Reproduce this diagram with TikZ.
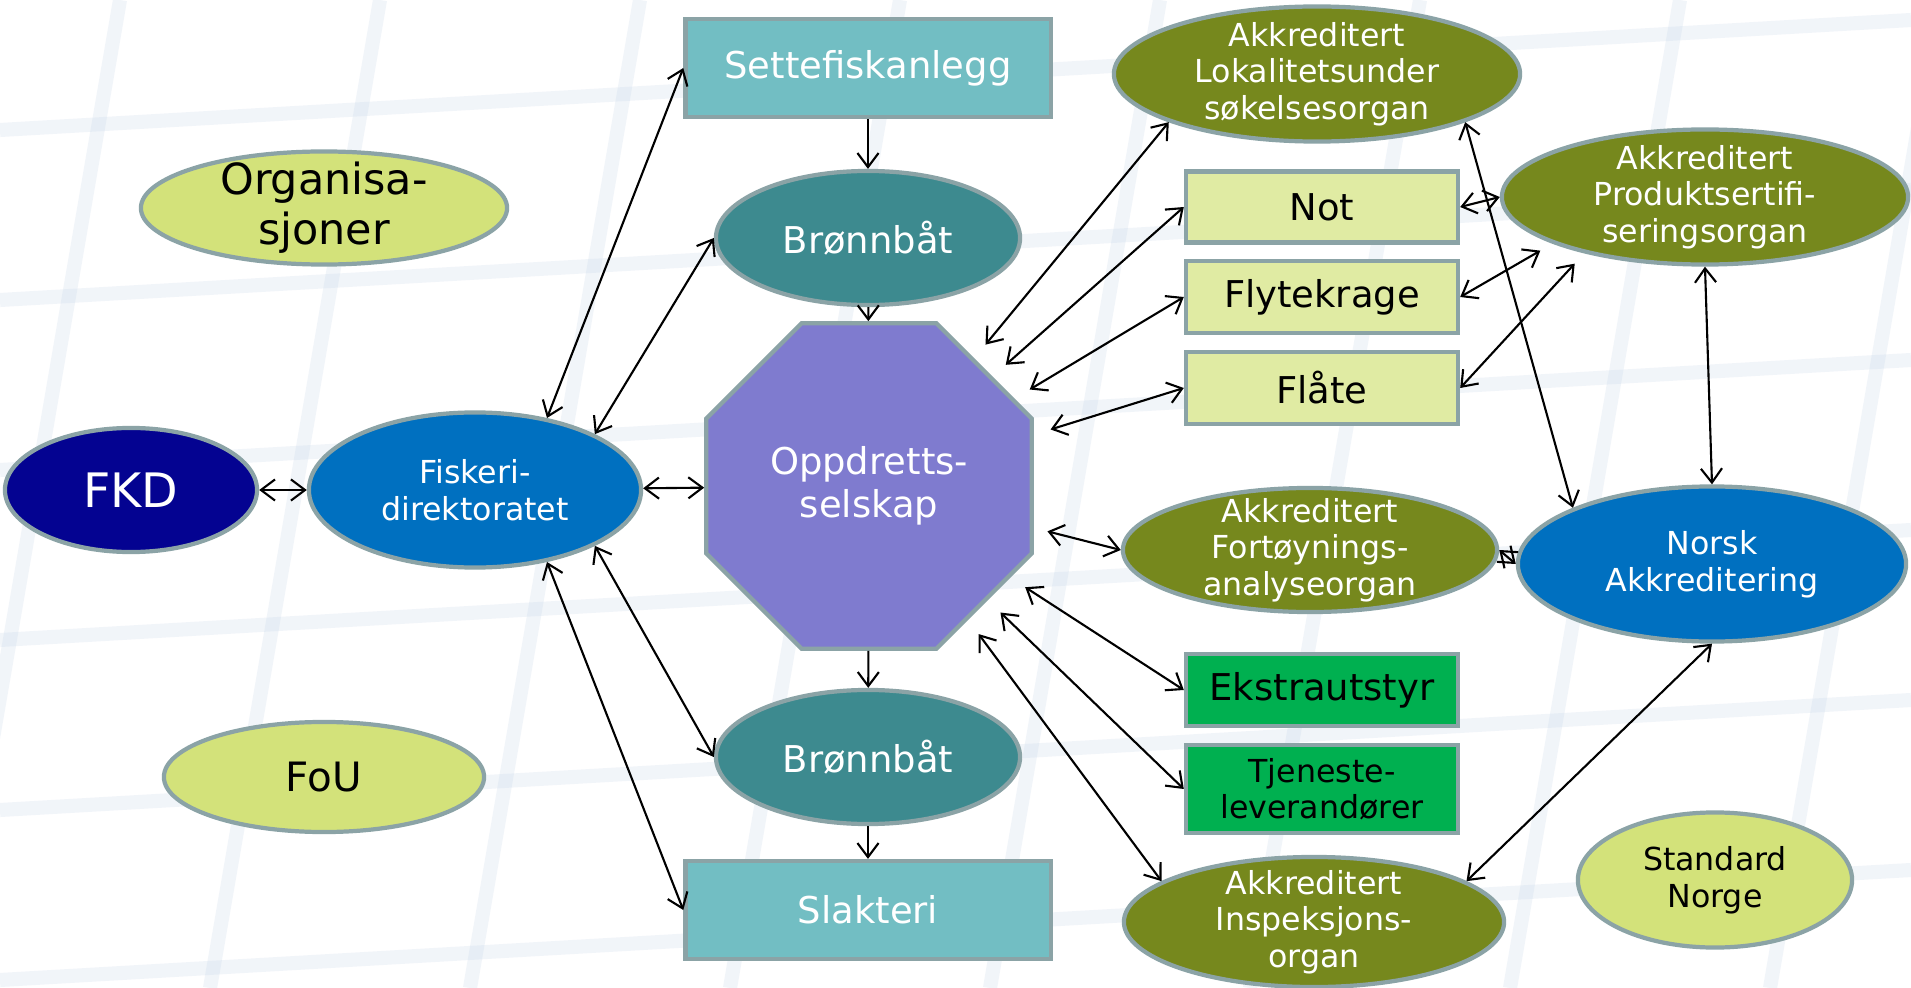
\documentclass[tikz,border=0pt]{standalone}
\usepackage{fontspec}
\setmainfont{DejaVu Sans}
\usetikzlibrary{shapes.geometric,arrows.meta}

\definecolor{kant}{HTML}{8BA3A6}
\definecolor{lysblaa}{HTML}{72BEC3}
\definecolor{bronn}{HTML}{3D8A8F}
\definecolor{lilla}{HTML}{7F7BCF}
\definecolor{lysgronn}{HTML}{D3E27A}
\definecolor{marine}{HTML}{040391}
\definecolor{blaa}{HTML}{0070C0}
\definecolor{oliven}{HTML}{76881D}
\definecolor{blek}{HTML}{E0EBA3}
\definecolor{gronn}{HTML}{00B050}
\definecolor{rutenett}{HTML}{C9D9EA}

\begin{document}
\begin{tikzpicture}[x=0.01cm, y=-0.01cm,
  boks/.style={draw=kant, line width=1.2pt, inner sep=0pt, align=center},
  ell/.style={boks, ellipse, inner ysep=-20pt},
  pil/.style={line width=0.6pt, >={Straight Barb[length=4pt,width=6pt]}},
  tni/.style={font=\fontsize{9}{10.4}\selectfont},
  tti/.style={font=\fontsize{10.5}{12.2}\selectfont}]
\useasboundingbox (0,0) rectangle (1911,988);
\fill[white] (0,0) rectangle (1911,988);
\foreach \y in {-40,130,300,470,640,810,980}
  \draw[rutenett, line width=4pt, opacity=.25] (0,\y) -- (1911,\y-110);
\foreach \x in {120,380,640,900,1160,1420,1680,1940}
  \draw[rutenett, line width=4pt, opacity=.25] (\x,0) -- (\x-170,988);

\node[boks, fill=lysblaa, text=white, minimum width=3.65cm, minimum height=0.98cm, tti] (sette) at (868,68) {Settefiskanlegg};
\node[ell, fill=bronn, text=white, minimum width=3.04cm, minimum height=1.34cm, tti] (bb1) at (868,238) {Brønnbåt};
\node[boks, regular polygon, regular polygon sides=8, minimum size=3.52cm, fill=lilla, text=white, tti] (okt) at (869,486) {Oppdretts-\\selskap};
\node[ell, fill=bronn, text=white, minimum width=3.04cm, minimum height=1.34cm, tti] (bb2) at (868,757) {Brønnbåt};
\node[boks, fill=lysblaa, text=white, minimum width=3.65cm, minimum height=0.98cm, tti] (slakt) at (868,910) {Slakteri};

\node[ell, fill=lysgronn, minimum width=3.66cm, minimum height=1.13cm, font=\fontsize{12.2}{14.2}\selectfont] (org) at (324,208) {Organisa-\\sjoner};
\node[ell, fill=marine, text=white, minimum width=2.52cm, minimum height=1.24cm, font=\fontsize{13.5}{15.6}\selectfont] (fkd) at (131,490) {FKD};
\node[ell, fill=blaa, text=white, minimum width=3.32cm, minimum height=1.55cm, tni] (fisk) at (475,490) {Fiskeri-\\direktoratet};
\node[ell, fill=lysgronn, minimum width=3.2cm, minimum height=1.1cm, font=\fontsize{11.5}{13.3}\selectfont] (fou) at (324,777) {FoU};

\node[ell, fill=oliven, text=white, minimum width=4.06cm, minimum height=1.35cm, tni] (lok) at (1317,74) {Akkreditert\\Lokalitetsunder\\søkelsesorgan};
\node[boks, fill=blek, minimum width=2.72cm, minimum height=0.71cm, tti] (not) at (1322,207) {Not};
\node[boks, fill=blek, minimum width=2.72cm, minimum height=0.72cm, tti] (flyt) at (1322,297) {Flytekrage};
\node[boks, fill=blek, minimum width=2.72cm, minimum height=0.72cm, tti] (flaate) at (1322,388) {Flåte};
\node[ell, fill=oliven, text=white, minimum width=3.74cm, minimum height=1.24cm, tni] (fort) at (1310,550) {Akkreditert\\Fortøynings-\\analyseorgan};
\node[boks, fill=gronn, minimum width=2.72cm, minimum height=0.72cm, tti] (ekstra) at (1322,690) {Ekstrautstyr};
\node[boks, fill=gronn, minimum width=2.72cm, minimum height=0.88cm, tni] (tjen) at (1322,789) {Tjeneste-\\leverandører};
\node[ell, fill=oliven, text=white, minimum width=3.8cm, minimum height=1.3cm, tni] (insp) at (1314,922) {Akkreditert\\Inspeksjons-\\organ};

\node[ell, fill=oliven, text=white, minimum width=4.06cm, minimum height=1.35cm, tni] (prod) at (1705,197) {Akkreditert\\Produktsertifi-\\seringsorgan};
\node[ell, fill=blaa, text=white, minimum width=3.88cm, minimum height=1.55cm, tni] (norsk) at (1712,564) {Norsk\\Akkreditering};
\node[ell, fill=lysgronn, minimum width=2.74cm, minimum height=1.35cm, tni] (std) at (1715,880) {Standard\\Norge};

\draw[pil,->] (sette) -- (bb1);
\draw[pil,->] (bb1) -- (okt);
\draw[pil,->] (okt) -- (bb2);
\draw[pil,->] (bb2) -- (slakt);

\draw[pil,<->] (fkd) -- (fisk);
\draw[pil,<->] (fisk) -- (okt);
\draw[pil,<->] (fisk.45) -- (sette.west);
\draw[pil,<->] (fisk.25) -- (bb1.west);
\draw[pil,<->] (fisk.-25) -- (bb2.west);
\draw[pil,<->] (fisk.-45) -- (slakt.west);

\draw[pil,<->,shorten <=5pt] (okt) -- (lok.198);
\draw[pil,<->,shorten <=5pt] (okt) -- (not.west);
\draw[pil,<->,shorten <=5pt] (okt) -- (flyt.west);
\draw[pil,<->,shorten <=5pt] (okt) -- (flaate.west);
\draw[pil,<->,shorten <=4pt] (okt) -- (fort.west);
\draw[pil,<->,shorten <=5pt] (okt) -- (ekstra.west);
\draw[pil,<->,shorten <=5pt] (okt) -- (tjen.west);
\draw[pil,<->,shorten <=5pt] (okt) -- (insp.165);

\draw[pil,<->] (lok.-18) -- (norsk.158);
\draw[pil,<->] (not.east) -- (prod.west);
\draw[pil,<->,shorten >=4pt] (flyt.east) -- (prod.197);
\draw[pil,<->,shorten >=4pt] (flaate.east) -- (prod.205);
\draw[pil,<->] (prod.south) -- (norsk.north);
\draw[pil,<->] (fort.east) -- (norsk.west);
\draw[pil,<->] (norsk.south) -- (insp.15);
\end{tikzpicture}
\end{document}
